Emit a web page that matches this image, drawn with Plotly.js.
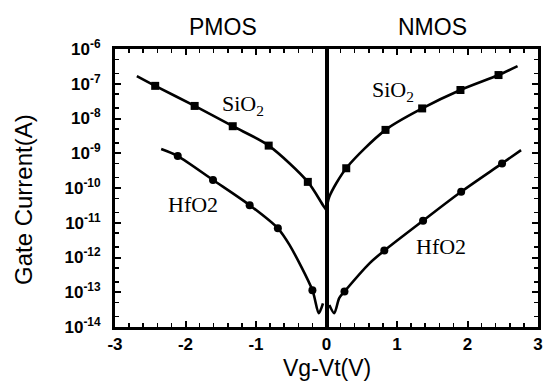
<!DOCTYPE html>
<html>
<head>
<meta charset="utf-8">
<script src="https://cdn.plot.ly/plotly-3.0.1.min.js"></script>
<style>html,body{margin:0;padding:0;background:#fff;}#chart{width:545px;height:383px;}</style>
</head>
<body>
<div id="chart"></div>
<script>
// PMOS SiO2 curve
const pSiO2_x = [-2.69, -2.43, -1.87, -1.33, -0.82, -0.265, -0.05, 0];
const pSiO2_y = [1.66e-7, 8.7e-8, 2.3e-8, 6.0e-9, 1.66e-9, 1.5e-10, 3.2e-11, 2.3e-11];
const pSiO2_mx = [-2.43, -1.87, -1.33, -0.82, -0.265];
const pSiO2_my = [8.7e-8, 2.3e-8, 6.0e-9, 1.66e-9, 1.5e-10];
// NMOS SiO2 curve
const nSiO2_x = [0, 0.04, 0.28, 0.837, 1.357, 1.90, 2.44, 2.71];
const nSiO2_y = [2.3e-11, 5.6e-11, 3.7e-10, 4.7e-9, 1.95e-8, 6.6e-8, 1.78e-7, 3.2e-7];
const nSiO2_mx = [0.28, 0.837, 1.357, 1.90, 2.44];
const nSiO2_my = [3.7e-10, 4.7e-9, 1.95e-8, 6.6e-8, 1.78e-7];
// PMOS HfO2 curve
const pHfO2_x = [-2.345, -2.11, -1.61, -1.09, -0.69, -0.525, -0.2, -0.11, -0.05];
const pHfO2_y = [1.32e-9, 8.3e-10, 1.7e-10, 3.2e-11, 6.9e-12, 2.3e-12, 1.15e-13, 2.5e-14, 4.8e-14];
const pHfO2_mx = [-2.11, -1.61, -1.09, -0.69, -0.2];
const pHfO2_my = [8.3e-10, 1.7e-10, 3.2e-11, 6.9e-12, 1.15e-13];
// NMOS HfO2 curve
const nHfO2_x = [0.04, 0.11, 0.18, 0.255, 0.61, 0.82, 1.37, 1.91, 2.49, 2.76];
const nHfO2_y = [4.3e-14, 2.5e-14, 6.8e-14, 1.05e-13, 6.8e-13, 1.58e-12, 1.15e-11, 7.8e-11, 5.1e-10, 1.23e-9];
const nHfO2_mx = [0.255, 0.82, 1.37, 1.91, 2.49];
const nHfO2_my = [1.05e-13, 1.58e-12, 1.15e-11, 7.8e-11, 5.1e-10];

const xTickVals = [-3, -2, -1, 0, 1, 2, 3];
const xTickText = ['<b>-3</b>', '<b>-2</b>', '<b>-1</b>', '<b>0</b>', '<b>1</b>', '<b>2</b>', '<b>3</b>'];
const yTickVals = [1e-14, 1e-13, 1e-12, 1e-11, 1e-10, 1e-9, 1e-8, 1e-7, 1e-6];
const yTickText = ['<b>10<sup>-14</sup></b>', '<b>10<sup>-13</sup></b>', '<b>10<sup>-12</sup></b>', '<b>10<sup>-11</sup></b>', '<b>10<sup>-10</sup></b>', '<b>10<sup>-9</sup></b>', '<b>10<sup>-8</sup></b>', '<b>10<sup>-7</sup></b>', '<b>10<sup>-6</sup></b>'];

function lineTrace(x, y) {
  return {x: x, y: y, mode: 'lines', type: 'scatter', hoverinfo: 'skip',
    line: {color: '#000', width: 2.6, shape: 'spline', smoothing: 0.8}, showlegend: false};
}
function markTrace(x, y, sym) {
  return {x: x, y: y, mode: 'markers', type: 'scatter',
    marker: {color: '#000', size: 8, symbol: sym}, showlegend: false};
}

const data = [
  lineTrace(pSiO2_x, pSiO2_y), markTrace(pSiO2_mx, pSiO2_my, 'square'),
  lineTrace(nSiO2_x, nSiO2_y), markTrace(nSiO2_mx, nSiO2_my, 'square'),
  lineTrace(pHfO2_x, pHfO2_y), markTrace(pHfO2_mx, pHfO2_my, 'circle'),
  lineTrace(nHfO2_x, nHfO2_y), markTrace(nHfO2_mx, nHfO2_my, 'circle')
];

const xTickFont = {family: 'Liberation Sans, Arial, sans-serif', size: 17, color: '#000'};
const yTickFont = {family: 'Liberation Sans, Arial, sans-serif', size: 17, color: '#000'};
const serif = {family: 'Liberation Serif, Times New Roman, serif', size: 22, color: '#000'};
const sans = {family: 'Liberation Sans, Arial, sans-serif', size: 23, color: '#000'};
const titleFont = {family: 'Liberation Sans, Arial, sans-serif', size: 24, color: '#000'};
const xTitleFont = {family: 'Liberation Sans, Arial, sans-serif', size: 23, color: '#000'};

function note(text, x, y, font, xref, angle) {
  return {text: text, xref: xref || 'x', yref: 'paper', x: x, y: y, showarrow: false,
    xanchor: 'center', yanchor: 'middle', font: font, textangle: angle || 0};
}

const layout = {
  width: 545, height: 383,
  margin: {l: 115, r: 7, t: 49, b: 56},
  paper_bgcolor: '#fff', plot_bgcolor: '#fff',
  xaxis: {
    range: [-3, 3], tickvals: xTickVals, ticktext: xTickText, tickfont: xTickFont,
    ticks: 'inside', ticklen: 6, tickwidth: 2, tickcolor: '#000',
    minor: {dtick: 0.2, ticks: 'inside', ticklen: 4, tickwidth: 1.5, tickcolor: '#000'},
    showline: true, linewidth: 3, linecolor: '#000', mirror: 'ticks',
    showgrid: false, zeroline: true, zerolinewidth: 4, zerolinecolor: '#000'
  },
  yaxis: {
    type: 'log', range: [-14, -6], tickvals: yTickVals, ticktext: yTickText, tickfont: yTickFont,
    ticks: 'inside', ticklen: 6, tickwidth: 2, tickcolor: '#000', ticklabelstandoff: 8,
    minor: {dtick: 'D2', ticks: 'inside', ticklen: 4, tickwidth: 1.5, tickcolor: '#000', showgrid: false},
    showline: true, linewidth: 3, linecolor: '#000', mirror: 'ticks',
    showgrid: false, zeroline: false
  },
  annotations: [
    note('PMOS', -1.47, 1.079, sans),
    note('NMOS', 1.5, 1.079, sans),
    note('SiO<sub>2</sub>', -1.18, 0.80, serif),
    note('SiO<sub>2</sub>', 0.94, 0.85, serif),
    note('HfO2', -1.9, 0.44, serif),
    note('HfO2', 1.63, 0.29, serif),
    note('Gate Current(A)', -0.215, 0.457, titleFont, 'paper', -90),
    note('Vg-Vt(V)', 0.5, -0.148, xTitleFont, 'paper')
  ]
};

Plotly.newPlot('chart', data, layout, {displayModeBar: false, staticPlot: true});
</script>
</body>
</html>
